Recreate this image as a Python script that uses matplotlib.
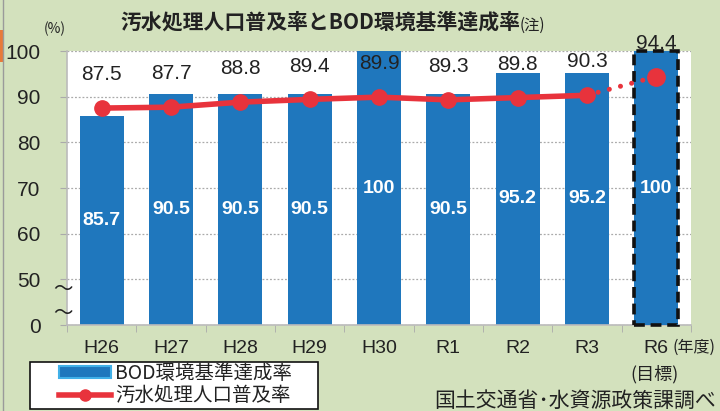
import matplotlib
matplotlib.use("Agg")
import matplotlib.pyplot as plt
import matplotlib.patches as mpatches
from matplotlib.lines import Line2D
from matplotlib import font_manager

# データ
years = ["H26", "H27", "H28", "H29", "H30", "R1", "R2", "R3", "R6"]
bod_rate = [85.7, 90.5, 90.5, 90.5, 100, 90.5, 95.2, 95.2, 100]      # BOD環境基準達成率
sewage_rate = [87.5, 87.7, 88.8, 89.4, 89.9, 89.3, 89.8, 90.3, 94.4]  # 汚水処理人口普及率
ytick_vals = [40, 50, 60, 70, 80, 90, 100]
ytick_labels = ["0", "50", "60", "70", "80", "90", "100"]
y_floor = 40  # 軸の下端（0 と表示）

installed = {f.name for f in font_manager.fontManager.ttflist}
num_font = "Liberation Sans Narrow" if "Liberation Sans Narrow" in installed else "Liberation Sans"
jp = ["Noto Sans CJK JP", "DejaVu Sans"]
plt.rcParams["font.family"] = jp

BG = "#d3e1bd"
BLUE = "#1f77bd"
RED = "#e8333c"
INK = "#222222"

fig = plt.figure(figsize=(7.2, 4.11), dpi=100, facecolor=BG)
ax = fig.add_axes([67 / 720, 1 - 325 / 411, 624 / 720, 274 / 411])
ax.set_facecolor("white")

x = list(range(len(years)))
heights = [v - y_floor for v in bod_rate]
bars = ax.bar(x, heights, bottom=y_floor, width=0.63, color=BLUE, zorder=2)
# R6（目標）は破線枠
last = bars.patches[-1]
last.set_edgecolor("#111111")
last.set_linestyle((0, (3, 1.6)))
last.set_linewidth(2.6)
last.set_clip_on(False)
last.set_zorder(3)

# 棒の中の数値
for xi, v in zip(x, bod_rate):
    lab = "100" if v == 100 else f"{v:.1f}"
    ax.text(xi, (v + y_floor) / 2, lab, ha="center", va="center", color="white",
            fontsize=14, fontweight="bold", family=num_font, zorder=5)

# 折れ線（実績は実線、目標までは点線）
ax.plot(x[:-1], sewage_rate[:-1], color=RED, lw=4, marker="o", ms=11, zorder=4)
ax.plot(x[-2:], sewage_rate[-2:], color=RED, lw=3.6, linestyle=(0, (0.01, 2.3)),
        dash_capstyle="round", zorder=4)
ax.plot(x[-1:], sewage_rate[-1:], color=RED, marker="o", ms=12.5, lw=0, zorder=6,
        clip_on=False)

for xi, v in zip(x, sewage_rate):
    ax.annotate(f"{v:.1f}", (xi, v), xytext=(0, 24), textcoords="offset points",
                ha="center", va="center", fontsize=15, family=num_font,
                color=INK, zorder=6, annotation_clip=False)

ax.set_xlim(-0.5, len(years) - 0.5)
ax.set_ylim(y_floor, 100)
ax.set_yticks(ytick_vals)
ax.set_yticklabels(ytick_labels, family=num_font, fontsize=15, color=INK)
ax.tick_params(axis="y", length=5, color="#aaaaaa", pad=14)
ax.yaxis.grid(True, linestyle=(0, (1.5, 1.5)), color="#aaaaaa", lw=0.9)
ax.set_axisbelow(True)

ax.set_xticks(x)
ax.set_xticklabels(years, family=num_font, fontsize=14, color=INK)
ax.set_xticks([i + 0.5 for i in x[:-1]] + [-0.5, len(years) - 0.5], minor=True)
ax.tick_params(axis="x", which="major", length=0, pad=11)
ax.tick_params(axis="x", which="minor", length=5, color="#aaaaaa", direction="out")

for s in ["top", "right"]:
    ax.spines[s].set_visible(False)
for s in ["left", "bottom"]:
    ax.spines[s].set_color("#bbbbbb")
    ax.spines[s].set_linewidth(1.2)

# 波線（軸の省略）
for yy in [289, 314]:
    fig.text(63 / 720, 1 - yy / 411, "～", ha="center", va="center", fontsize=14,
             color=INK, zorder=10)

# タイトル・注記
fig.text(520 / 720, 1 - 22 / 411, "汚水処理人口普及率とBOD環境基準達成率", ha="right",
         va="center", fontsize=15, fontweight="bold", color=INK)
fig.text(520 / 720, 1 - 25 / 411, "(注)", ha="left", va="center", fontsize=11,
         color=INK)
fig.text(55 / 720, 1 - 29 / 411, "(%)", ha="center", va="center", fontsize=10,
         color=INK)
fig.text(716 / 720, 1 - 347 / 411, "(年度)", ha="right", va="center", fontsize=11.5,
         color=INK)
fig.text(655 / 720, 1 - 374 / 411, "(目標)", ha="center", va="center", fontsize=13,
         color=INK)
fig.text(716 / 720, 1 - 401 / 411, "国土交通省･水資源政策課調べ", ha="right", va="center",
         fontsize=15, color=INK)

# 左端の枠線
fig.add_artist(Line2D([3 / 720, 3 / 720], [0, 1], color="#9a9a9a", lw=1))
fig.add_artist(mpatches.Rectangle((0, 1 - 62 / 411), 3 / 720, 32 / 411,
                                  color="#e87a3a", lw=0))

# 凡例（枠は別に描く）
fig.add_artist(mpatches.Rectangle((30 / 720, 1 - 409 / 411), 288 / 720, 47 / 411,
                                  facecolor="white", edgecolor="#111111", lw=1.2))
handles = [
    mpatches.Patch(facecolor=BLUE, edgecolor="#41b0e8", lw=1.5),
    Line2D([], [], color=RED, lw=4, marker="o", ms=8),
]
leg = fig.legend(handles, ["BOD環境基準達成率", "汚水処理人口普及率"],
                 loc="upper left", bbox_to_anchor=(58 / 720, 1 - 362 / 411),
                 fontsize=14, frameon=False, handlelength=2.7, handleheight=0.55,
                 borderpad=0.05, labelspacing=0.05, handletextpad=0.2,
                 borderaxespad=0)
for t in leg.get_texts():
    t.set_color(INK)

fig.savefig("out.png", dpi=100, facecolor=BG)
